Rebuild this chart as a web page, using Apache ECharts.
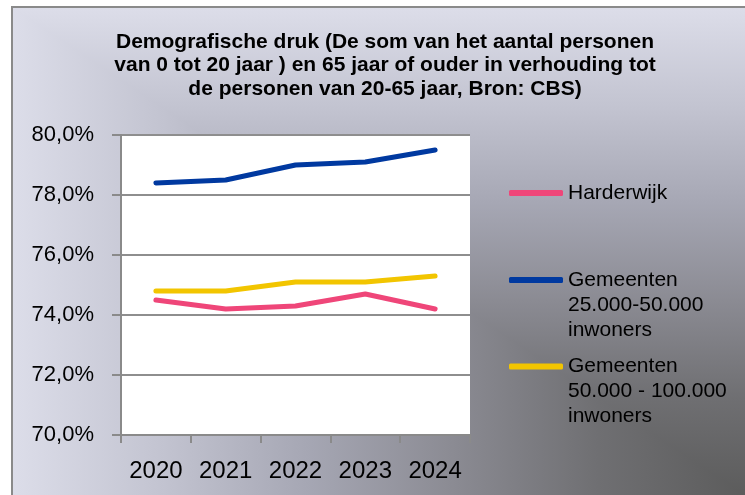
<!DOCTYPE html>
<html>
<head>
<meta charset="utf-8">
<script src="https://cdn.jsdelivr.net/npm/echarts@6/dist/echarts.min.js"></script>
<style>
  html, body { margin: 0; padding: 0; background: #fff; overflow: hidden; }
  #frame {
    position: absolute; left: 11px; top: 6px; width: 750px; height: 500px;
    border-left: 2px solid #8a8a8a; border-top: 2px solid #8a8a8a;
    overflow: hidden;
  }
  /* rectangular "from corner" gradient, dark in the bottom-right corner */
  .half { position: absolute; left: 0; top: 0; width: 732px; height: 487px; }
  #lowerLeft {
    background: linear-gradient(to left, #5c5c5c 0%, #6f6f72 20%, #8b8b93 40%, #a6a7b4 60%, #c3c4d1 80%, #dcdde9 100%);
  }
  #upperRight {
    clip-path: polygon(0 0, 100% 0, 100% 100%);
    background: linear-gradient(to top, #5c5c5c 0%, #6f6f72 20%, #8b8b93 40%, #a6a7b4 60%, #c3c4d1 80%, #dcdde9 100%);
  }
  #chart { position: absolute; left: 0; top: 0; width: 745px; height: 495px; }
</style>
</head>
<body>
<div id="frame"><div class="half" id="lowerLeft"></div><div class="half" id="upperRight"></div></div>
<div id="chart"></div>
<script>
// Demografische druk per jaar (%)
const years = ['2020', '2021', '2022', '2023', '2024'];
const harderwijk = [74.5, 74.2, 74.3, 74.7, 74.2];
const gemeenten25k50k = [78.4, 78.5, 79.0, 79.1, 79.5];
const gemeenten50k100k = [74.8, 74.8, 75.1, 75.1, 75.3];

const seriesNames = [
  'Harderwijk',
  'Gemeenten\n25.000-50.000\ninwoners',
  'Gemeenten\n50.000 - 100.000\ninwoners'
];
const seriesColors = ['#ef4679', '#0039a0', '#f2c500'];
const seriesValues = [harderwijk, gemeenten25k50k, gemeenten50k100k];

const titleText = 'Demografische druk (De som van het aantal personen\n' +
  'van 0 tot 20 jaar ) en 65 jaar of ouder in verhouding tot\n' +
  'de personen van 20-65 jaar, Bron: CBS)';

const FONT = '"Liberation Sans", Arial, sans-serif';
const axisGray = '#8a8a8a';

const chart = echarts.init(document.getElementById('chart'), null, { renderer: 'canvas' });

// one legend block per series; the icon sits level with the first text line
const legendTops = [180.5, 217.5, 304];
const legends = seriesNames.map((name, i) => {
  const extra = name.split('\n').length - 1;
  return {
    data: [name],
    left: 509,
    top: legendTops[i],
    padding: 0,
    orient: 'vertical',
    icon: 'roundRect',
    itemWidth: 54,
    itemHeight: 6,
    formatter: n => '\n'.repeat(extra) + n,
    textStyle: {
      fontFamily: FONT,
      fontSize: 21,
      color: '#000',
      lineHeight: 25
    }
  };
});

chart.setOption({
  animation: false,
  title: {
    text: titleText,
    left: 385,
    top: 30,
    padding: 0,
    textAlign: 'center',
    textStyle: {
      fontFamily: FONT,
      fontSize: 21,
      fontWeight: 'bold',
      color: '#000',
      lineHeight: 23.5
    }
  },
  legend: legends,
  grid: {
    left: 121,
    top: 135,
    right: 275,
    bottom: 60,
    show: true,
    backgroundColor: '#ffffff',
    borderWidth: 0
  },
  xAxis: {
    type: 'category',
    data: years,
    boundaryGap: true,
    axisLine: { lineStyle: { color: axisGray, width: 2 } },
    axisTick: { show: true, length: 8, alignWithLabel: false, lineStyle: { color: axisGray, width: 2 } },
    axisLabel: { fontFamily: FONT, fontSize: 24, color: '#000', margin: 24 },
    splitLine: { show: false }
  },
  yAxis: {
    type: 'value',
    min: 70,
    max: 80,
    interval: 2,
    axisLine: { show: true, lineStyle: { color: axisGray, width: 2 } },
    axisTick: { show: true, length: 9, lineStyle: { color: axisGray, width: 2 } },
    axisLabel: {
      fontFamily: FONT,
      fontSize: 22,
      color: '#000',
      margin: 27,
      formatter: v => v.toFixed(1).replace('.', ',') + '%'
    },
    splitLine: { lineStyle: { color: '#8e8e8e', width: 2 } }
  },
  series: seriesNames.map((name, i) => ({
    name: name,
    type: 'line',
    data: seriesValues[i],
    symbol: 'none',
    color: seriesColors[i],
    lineStyle: { color: seriesColors[i], width: 5, cap: 'round', join: 'round' }
  }))
});
</script>
</body>
</html>
